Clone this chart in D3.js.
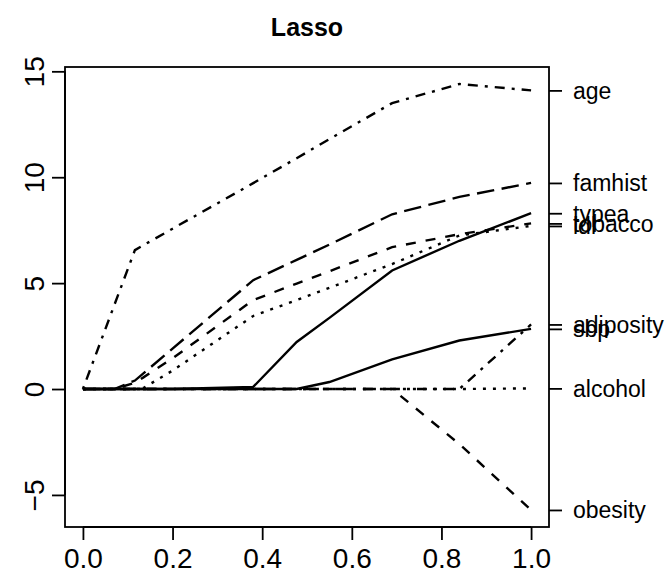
<!DOCTYPE html>
<html>
<head>
<meta charset="utf-8">
<script src="https://cdn.jsdelivr.net/npm/d3@7"></script>
<style>
  body { margin: 0; background: #fff; }
  text { font-family: "Liberation Sans", Arial, Helvetica, sans-serif; fill: #000; }
</style>
</head>
<body>
<svg id="chart" width="668" height="577"></svg>
<script>
// shrinkage fraction |beta| / max|beta| at each step of the path
const fraction  = [0, 0.07, 0.116, 0.135, 0.2, 0.38, 0.477, 0.55, 0.69, 0.84, 1.0];

// coefficient paths
const sbp       = [0, 0, 0, 0, 0, 0, 0, 0.33, 1.4, 2.29, 2.84];
const tobacco   = [0, 0, 0.3, 0.55, 1.45, 4.2, 4.98, 5.56, 6.7, 7.31, 7.82];
const ldl       = [0, 0, 0, 0.05, 0.87, 3.45, 4.2, 4.78, 5.9, 7.25, 7.7];
const adiposity = [0, 0, 0, 0, 0, 0, 0, 0, 0, 0, 3.05];
const famhist   = [0, 0, 0.4, 0.74, 1.91, 5.14, 6.1, 6.82, 8.25, 9.07, 9.73];
const typea     = [0, 0, 0, 0, 0, 0.1, 2.22, 3.36, 5.6, 7.0, 8.3];
const obesity   = [0, 0, 0, 0, 0, 0, 0, 0, 0, -2.6, -5.71];
const alcohol   = [0, 0, 0, 0, 0, 0, 0, 0, 0, 0, 0.03];
const age       = [0, 3.96, 6.56, 6.79, 7.57, 9.72, 10.9, 11.8, 13.5, 14.4, 14.1];

const variables = ['sbp', 'tobacco', 'ldl', 'adiposity', 'famhist', 'typea', 'obesity', 'alcohol', 'age'];
const paths = { sbp, tobacco, ldl, adiposity, famhist, typea, obesity, alcohol, age };

const xTicks = [0, 0.2, 0.4, 0.6, 0.8, 1.0];
const yTicks = [-5, 0, 5, 10, 15];

// matplot style: lty 1:5 recycled (solid, dashed, dotted, dotdash, longdash)
const dashes = [null, '10,10', '3,7', '3,7,10,7', '17.5,7.5'];

const svg = d3.select('#chart');
const plot = { left: 65, right: 549, top: 67, bottom: 527 };
const tick = 13;

// R style 4% padding of the data range
const pad = (lo, hi) => [lo - 0.04 * (hi - lo), hi + 0.04 * (hi - lo)];
const allValues = variables.flatMap(v => paths[v]);
const x = d3.scaleLinear().domain(pad(0, 1)).range([plot.left, plot.right]);
const y = d3.scaleLinear().domain(pad(d3.min(allValues), d3.max(allValues))).range([plot.bottom, plot.top]);

const line = d3.line()
    .x(d => x(d[0]))
    .y(d => y(d[1]));

svg.append('defs')
    .append('clipPath')
    .attr('id', 'clip')
    .append('rect')
    .attr('x', plot.left)
    .attr('y', plot.top)
    .attr('width', plot.right - plot.left)
    .attr('height', plot.bottom - plot.top);

svg.append('g')
    .attr('clip-path', 'url(#clip)')
    .selectAll('path')
    .data(variables)
    .enter()
    .append('path')
    .attr('d', v => line(fraction.map((f, i) => [f, paths[v][i]])))
    .attr('fill', 'none')
    .attr('stroke', '#000')
    .attr('stroke-width', 2.4)
    .attr('stroke-dasharray', (_, i) => dashes[i % 5]);

// box
svg.append('rect')
    .attr('x', plot.left)
    .attr('y', plot.top)
    .attr('width', plot.right - plot.left)
    .attr('height', plot.bottom - plot.top)
    .attr('fill', 'none')
    .attr('stroke', '#000')
    .attr('stroke-width', 1.8);

// bottom axis
const xAxis = svg.append('g')
    .attr('transform', `translate(0, ${plot.bottom})`)
    .call(d3.axisBottom(x).tickValues(xTicks).tickSize(tick).tickPadding(8).tickFormat(d3.format('.1f')));
xAxis.select('.domain').attr('d', `M${x(0)},0H${x(1)}`);

// left axis
const yAxis = svg.append('g')
    .attr('transform', `translate(${plot.left}, 0)`)
    .call(d3.axisLeft(y).tickValues(yTicks).tickSize(tick).tickFormat(d => d < 0 ? '\u2212' + Math.abs(d) : d));
yAxis.select('.domain').attr('d', `M0,${y(-5)}V${y(15)}`);
yAxis.selectAll('.tick text')
    .attr('transform', 'rotate(-90)')
    .attr('x', 0)
    .attr('y', -21)
    .attr('dy', 0)
    .attr('text-anchor', 'middle');

// right axis: final coefficient of each variable
const rightAxis = svg.append('g')
    .attr('transform', `translate(${plot.right}, 0)`)
    .call(d3.axisRight(y)
        .tickValues(variables.map(v => paths[v][paths[v].length - 1]))
        .tickSize(tick)
        .tickPadding(11)
        .tickFormat((_, i) => variables[i]));
rightAxis.select('.domain').remove();
rightAxis.selectAll('.tick text').attr('font-size', 23).attr('dy', '0.34em');

[xAxis, yAxis, rightAxis].forEach(a => {
    a.attr('font-family', null).attr('font-size', null);
    a.selectAll('line, path').attr('stroke', '#000').attr('stroke-width', 1.8);
    a.selectAll('.tick text').attr('fill', '#000');
});
xAxis.selectAll('.tick text').attr('font-size', 28);
yAxis.selectAll('.tick text').attr('font-size', 28);

svg.append('text')
    .attr('x', (plot.left + plot.right) / 2)
    .attr('y', 36)
    .attr('text-anchor', 'middle')
    .attr('font-size', 25)
    .attr('font-weight', 'bold')
    .text('Lasso');
</script>
</body>
</html>
